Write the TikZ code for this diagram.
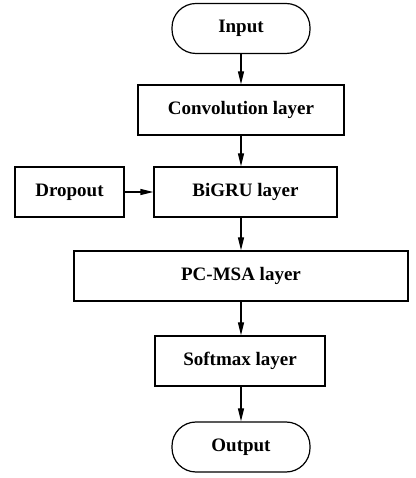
\documentclass[tikz,border=0pt]{standalone}
\usepackage{fontspec}
\setmainfont{Liberation Serif}
\usetikzlibrary{arrows.meta}
\begin{document}
\begin{tikzpicture}[x=1pt,y=1pt,
  box/.style={draw, line width=1.2pt, minimum height=50pt, inner sep=0pt,
    font=\fontsize{19}{22}\selectfont\bfseries},
  term/.style={box, rounded corners=24pt, minimum width=138pt},
  arr/.style={line width=1.2pt, -{Triangle[length=13pt,width=6pt]}}]
\useasboundingbox (0,0) rectangle (415,478);
\node[term] (in) at (241,449.5) {Input};
\node[box, minimum width=206pt] (conv) at (241,368) {Convolution layer};
\node[box, minimum width=183pt] (gru) at (245.5,286) {BiGRU layer};
\node[box, minimum width=109pt] (drop) at (69.5,286) {Dropout};
\node[box, minimum width=334pt] (pc) at (241,202) {PC-MSA layer};
\node[box, minimum width=170pt] (soft) at (240,117) {Softmax layer};
\node[term] (out) at (241,31) {Output};
\draw[arr] (in.south) -- (in.south |- conv.north);
\draw[arr] (in.south |- conv.south) -- (in.south |- gru.north);
\draw[arr] (drop.east) -- (gru.west);
\draw[arr] (in.south |- gru.south) -- (in.south |- pc.north);
\draw[arr] (in.south |- pc.south) -- (in.south |- soft.north);
\draw[arr] (in.south |- soft.south) -- (out.north);
\end{tikzpicture}
\end{document}
